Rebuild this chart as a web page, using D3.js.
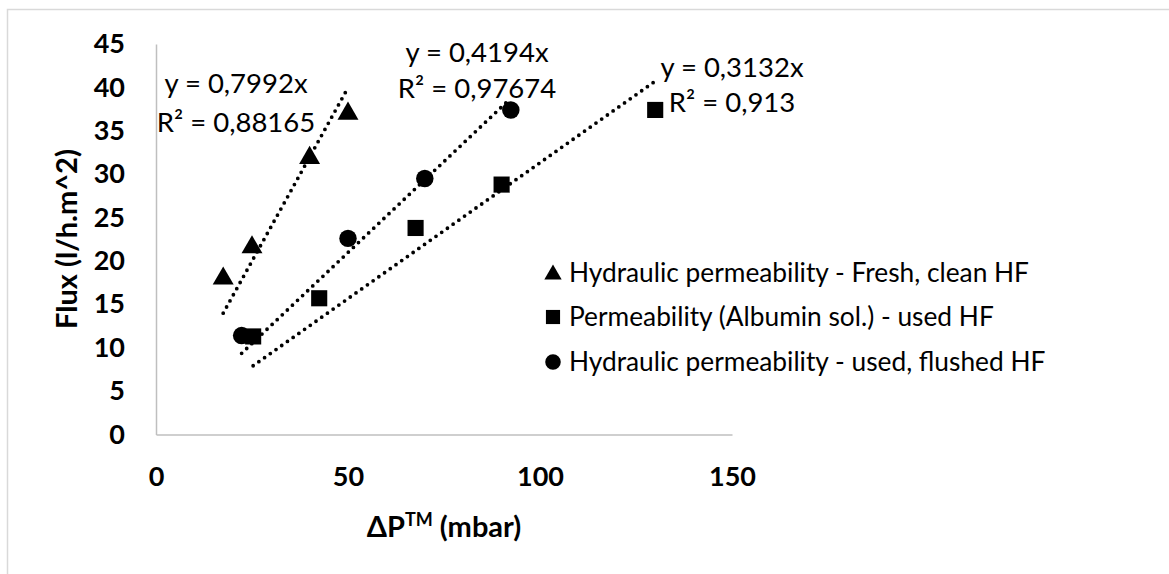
<!DOCTYPE html>
<html>
<head>
<meta charset="utf-8">
<script src="https://cdn.jsdelivr.net/npm/d3@7"></script>
<style>
  html, body { margin: 0; padding: 0; background: #fff; }
  svg { display: block; font-family: Lato, "Open Sans", sans-serif; }
</style>
</head>
<body>
<svg id="chart" width="1169" height="574"></svg>
<script>
// ---- data ----
const xTicks = [0, 50, 100, 150];
const yTicks = [0, 5, 10, 15, 20, 25, 30, 35, 40, 45];

const seriesNames = [
  "Hydraulic permeability - Fresh, clean HF",
  "Permeability (Albumin sol.) - used HF",
  "Hydraulic permeability - used, flushed HF"
];
const seriesSymbols = ["triangle", "square", "circle"];

const freshX = [17.5, 25, 40, 50];
const freshY = [18.2, 21.8, 32.1, 37.2];

const albuminX = [25.3, 42.5, 67.6, 90, 130];
const albuminY = [11.3, 15.7, 23.8, 28.8, 37.4];

const flushedX = [22.3, 50, 70, 92.4];
const flushedY = [11.4, 22.6, 29.5, 37.4];

const slopes = [0.7992, 0.3132, 0.4194];
const eqLabels = ["y = 0,7992x", "y = 0,3132x", "y = 0,4194x"];
const r2Labels = ["R² = 0,88165", "R² = 0,913", "R² = 0,97674"];

// ---- layout ----
const svg = d3.select("#chart");
const x = d3.scaleLinear().domain([0, 150]).range([156, 732]);
const y = d3.scaleLinear().domain([0, 45]).range([434.5, 44]);

// outer border
svg.append("rect").attr("x", 7.5).attr("y", 9.5).attr("width", 1175).attr("height", 580)
  .attr("fill", "none").attr("stroke", "#d9d9d9").attr("stroke-width", 1.5);

// axes
const axisColor = "#bfbfbf";
const xAxis = d3.axisBottom(x).tickValues(xTicks).tickSize(0).tickPadding(30).tickFormat(d3.format("d"));
const yAxis = d3.axisLeft(y).tickValues(yTicks).tickSize(0).tickPadding(31).tickFormat(d3.format("d"));

const gx = svg.append("g").attr("transform", `translate(0,${y(0)})`).call(xAxis);
const gy = svg.append("g").attr("transform", `translate(${x(0)},0)`).call(yAxis);
[gx, gy].forEach(g => {
  g.select(".domain").attr("stroke", axisColor).attr("stroke-width", 1.5);
  g.selectAll("text").attr("font-size", 27).attr("font-weight", "bold")
    .attr("fill", "#000").attr("font-family", "Lato, sans-serif");
});
gx.selectAll("text").attr("dy", "0.71em").attr("y", 32);

// axis titles
const xt = svg.append("text").attr("x", 444).attr("y", 537).attr("text-anchor", "middle")
  .attr("font-size", 29).attr("font-weight", "bold").attr("fill", "#000");
xt.append("tspan").text("ΔP");
xt.append("tspan").text("TM").attr("font-size", 18).attr("dy", -11);
xt.append("tspan").text(" (mbar)").attr("dy", 11);

svg.append("text").attr("transform", `translate(77,239) rotate(-90)`)
  .attr("text-anchor", "middle").attr("font-size", 29).attr("font-weight", "bold")
  .attr("fill", "#000").text("Flux (l/h.m^2)");

// ---- series ----
const series = [
  { xs: freshX, ys: freshY },
  { xs: albuminX, ys: albuminY },
  { xs: flushedX, ys: flushedY }
];
const symType = { triangle: d3.symbolTriangle, square: d3.symbolSquare, circle: d3.symbolCircle };
const symSize = { triangle: 190, square: 260, circle: 240 };

// trend lines
const line = d3.line().x(d => x(d[0])).y(d => y(d[1]));
series.forEach((s, i) => {
  const x0 = d3.min(s.xs), x1 = d3.max(s.xs);
  svg.append("path")
    .attr("d", line([[x0, slopes[i] * x0], [x1, slopes[i] * x1]]))
    .attr("fill", "none").attr("stroke", "#000").attr("stroke-width", 3.8)
    .attr("stroke-linecap", "round").attr("stroke-dasharray", "0 7");
});

// markers
series.forEach((s, i) => {
  const sym = seriesSymbols[i];
  const pts = s.xs.map((v, j) => [v, s.ys[j]]);
  svg.append("g").selectAll("path").data(pts).join("path")
    .attr("transform", d => `translate(${x(d[0])},${y(d[1]) + (sym === "triangle" ? 2 : 0)})`)
    .attr("d", d3.symbol().type(symType[sym]).size(symSize[sym]))
    .attr("fill", "#000");
});

// trendline labels
const labelPos = [[236, 83, 122], [732, 67, 102], [477, 52, 88]];
series.forEach((s, i) => {
  const [cx, y1, y2] = labelPos[i];
  svg.append("text").attr("x", cx).attr("y", y1).attr("dy", "0.35em").attr("text-anchor", "middle")
    .attr("font-size", 27.5).attr("fill", "#000").text(eqLabels[i]);
  svg.append("text").attr("x", cx).attr("y", y2).attr("dy", "0.35em").attr("text-anchor", "middle")
    .attr("font-size", 27.5).attr("fill", "#000").text(r2Labels[i]);
});

// legend
const legY = [273, 317, 362];
const legSize = { triangle: 130, square: 200, circle: 190 };
seriesNames.forEach((name, i) => {
  const sym = seriesSymbols[i];
  svg.append("path")
    .attr("transform", `translate(553,${legY[i] + (sym === "triangle" ? 1.5 : 0)})`)
    .attr("d", d3.symbol().type(symType[sym]).size(legSize[sym]))
    .attr("fill", "#000");
  svg.append("text").attr("x", 569).attr("y", legY[i]).attr("dy", "0.35em")
    .attr("font-size", 26.3).attr("fill", "#000").text(name);
});
</script>
</body>
</html>
